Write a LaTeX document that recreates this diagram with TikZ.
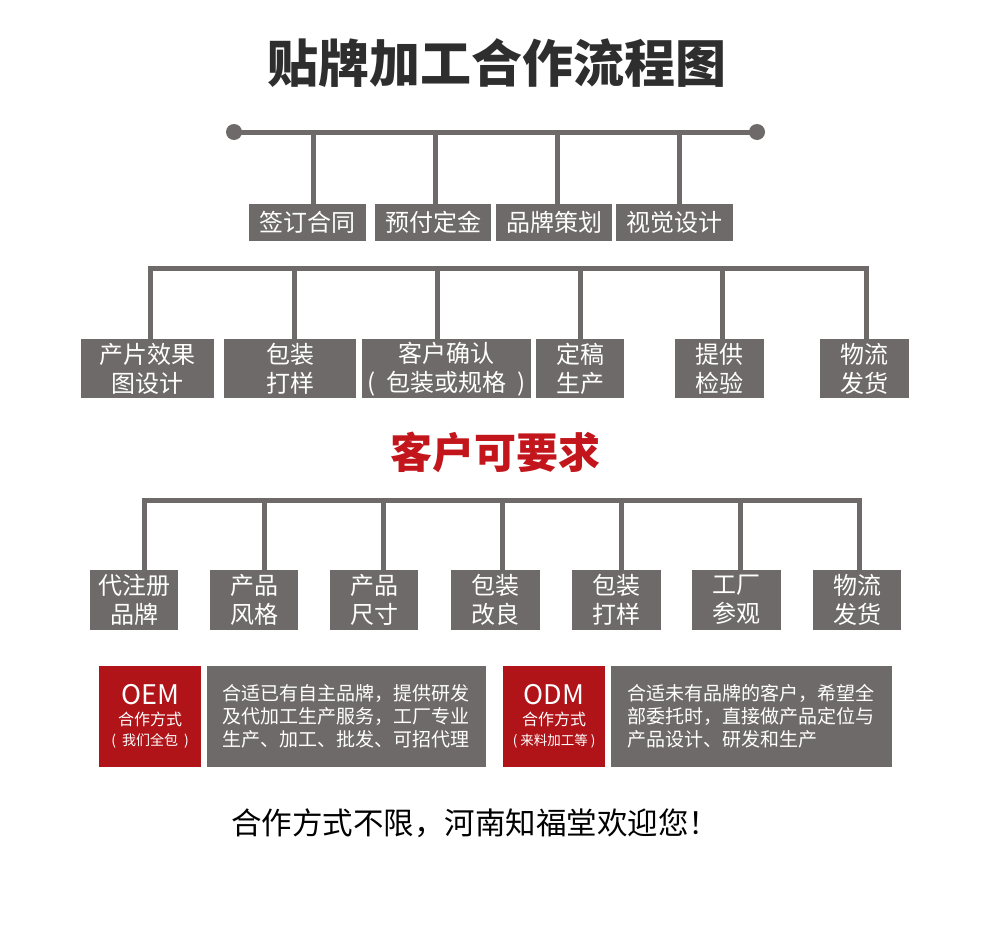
\documentclass[tikz,border=0pt]{standalone}
\usepackage{fontspec}
\setmainfont{Noto Sans CJK SC}
\usetikzlibrary{positioning}
\definecolor{boxgray}{HTML}{6E6A69}
\definecolor{oemred}{HTML}{B01419}
\definecolor{titlered}{HTML}{C3161C}
\definecolor{titledark}{HTML}{2E2E2E}

\begin{document}
\begin{tikzpicture}[x=1pt,y=-1pt,
    stepbox/.style={rectangle,fill=boxgray,text=white,inner sep=0pt,anchor=north west,align=center,font=\fontsize{24}{29}\selectfont},
    modebox/.style={rectangle,fill=oemred,text=white,inner sep=0pt,anchor=north west,align=center,minimum width=102,minimum height=101,font=\fontsize{16}{20}\selectfont},
    notebox/.style={rectangle,fill=boxgray,text=white,inner xsep=15,inner ysep=0pt,anchor=north west,align=left,text width=249,minimum height=101,font=\fontsize{19}{23}\selectfont},
    link/.style={boxgray,line width=5pt,line cap=rect}
]
    \useasboundingbox[fill=white] (0,0) rectangle (990,942);

    % titles
    \node[font=\fontsize{51}{56}\selectfont\bfseries,text=titledark] (title) at (497,63) {贴牌加工合作流程图};
    \node[font=\fontsize{42}{46}\selectfont\bfseries,text=titlered] (demand) at (495,452) {客户可要求};

    % first row
    \node[stepbox,minimum width=117,minimum height=37] (sign) at (249,204) {签订合同};
    \node[stepbox,minimum width=116,minimum height=37] (deposit) at (375,204) {预付定金};
    \node[stepbox,minimum width=116,minimum height=37] (brand) at (496,204) {品牌策划};
    \node[stepbox,minimum width=117,minimum height=37] (visual) at (616,204) {视觉设计};

    \coordinate (topL) at (234,132);
    \coordinate (topR) at (757,132);
    \draw[link,line cap=butt] (topL) -- (topR);
    \fill[boxgray] (topL) circle (8);
    \fill[boxgray] (topR) circle (8);
    \coordinate (t1) at (313,132);
    \coordinate (t2) at (435,132);
    \coordinate (t3) at (557,132);
    \coordinate (t4) at (679,132);
    \draw[link] (t1) -- (t1 |- sign.north);
    \draw[link] (t2) -- (t2 |- deposit.north);
    \draw[link] (t3) -- (t3 |- brand.north);
    \draw[link] (t4) -- (t4 |- visual.north);

    % second row
    \node[stepbox,minimum width=133,minimum height=59] (render) at (81,339) {产片效果\\图设计};
    \node[stepbox,minimum width=132,minimum height=59] (sample) at (224,339) {包装\\打样};
    \node[stepbox,minimum width=169,minimum height=59] (confirm) at (362,339) {客户确认\\(\hspace{11pt}包装或规格\hspace{11pt})};
    \node[stepbox,minimum width=88,minimum height=59] (final) at (536,339) {定稿\\生产};
    \node[stepbox,minimum width=89,minimum height=59] (inspect) at (675,339) {提供\\检验};
    \node[stepbox,minimum width=89,minimum height=59] (ship) at (820,339) {物流\\发货};

    \coordinate (m1) at (150,268);
    \coordinate (m2) at (294,268);
    \coordinate (m3) at (437,268);
    \coordinate (m4) at (580,268);
    \coordinate (m5) at (722,268);
    \coordinate (m6) at (866,268);
    \draw[link] (m1) -- (m6);
    \draw[link] (m1) -- (m1 |- render.north);
    \draw[link] (m2) -- (m2 |- sample.north);
    \draw[link] (m3) -- (m3 |- confirm.north);
    \draw[link] (m4) -- (m4 |- final.north);
    \draw[link] (m5) -- (m5 |- inspect.north);
    \draw[link] (m6) -- (m6 |- ship.north);

    % third row
    \node[stepbox,minimum width=88,minimum height=60] (reg) at (90,570) {代注册\\品牌};
    \node[stepbox,minimum width=88,minimum height=60] (style) at (210,570) {产品\\风格};
    \node[stepbox,minimum width=88,minimum height=60] (size) at (330,570) {产品\\尺寸};
    \node[stepbox,minimum width=89,minimum height=60] (pack) at (451,570) {包装\\改良};
    \node[stepbox,minimum width=89,minimum height=60] (proof) at (572,570) {包装\\打样};
    \node[stepbox,minimum width=89,minimum height=60] (visit) at (692,570) {工厂\\参观};
    \node[stepbox,minimum width=88,minimum height=60] (deliver) at (813,570) {物流\\发货};

    \coordinate (d1) at (144,500);
    \coordinate (d2) at (264,500);
    \coordinate (d3) at (383,500);
    \coordinate (d4) at (502,500);
    \coordinate (d5) at (621,500);
    \coordinate (d6) at (740,500);
    \coordinate (d7) at (859,500);
    \draw[link] (d1) -- (d7);
    \draw[link] (d1) -- (d1 |- reg.north);
    \draw[link] (d2) -- (d2 |- style.north);
    \draw[link] (d3) -- (d3 |- size.north);
    \draw[link] (d4) -- (d4 |- pack.north);
    \draw[link] (d5) -- (d5 |- proof.north);
    \draw[link] (d6) -- (d6 |- visit.north);
    \draw[link] (d7) -- (d7 |- deliver.north);

    % cooperation modes
    \node[modebox] (oem) at (99,666) {{\fontsize{27}{27}\selectfont OEM}\\[1pt]合作方式\\{\fontsize{14}{20}\selectfont (\hspace{6pt}我们全包\hspace{6pt})}};
    \node[notebox] (oemtext) at (207,666) {合适已有自主品牌，提供研发\\及代加工生产服务，工厂专业\\生产、加工、批发、可招代理};
    \node[modebox] (odm) at (503,666) {{\fontsize{27}{27}\selectfont ODM}\\[1pt]合作方式\\{\fontsize{13.5}{20}\selectfont (\hspace{3pt}来料加工等\hspace{3pt})}};
    \node[notebox,inner xsep=16] (odmtext) at (611,666) {合适未有品牌的客户，希望全\\部委托时，直接做产品定位与\\产品设计、研发和生产};

    \node[font=\fontsize{30.5}{34}\selectfont,text=black] (slogan) at (475,823) {合作方式不限，河南知福堂欢迎您！};
\end{tikzpicture}
\end{document}
